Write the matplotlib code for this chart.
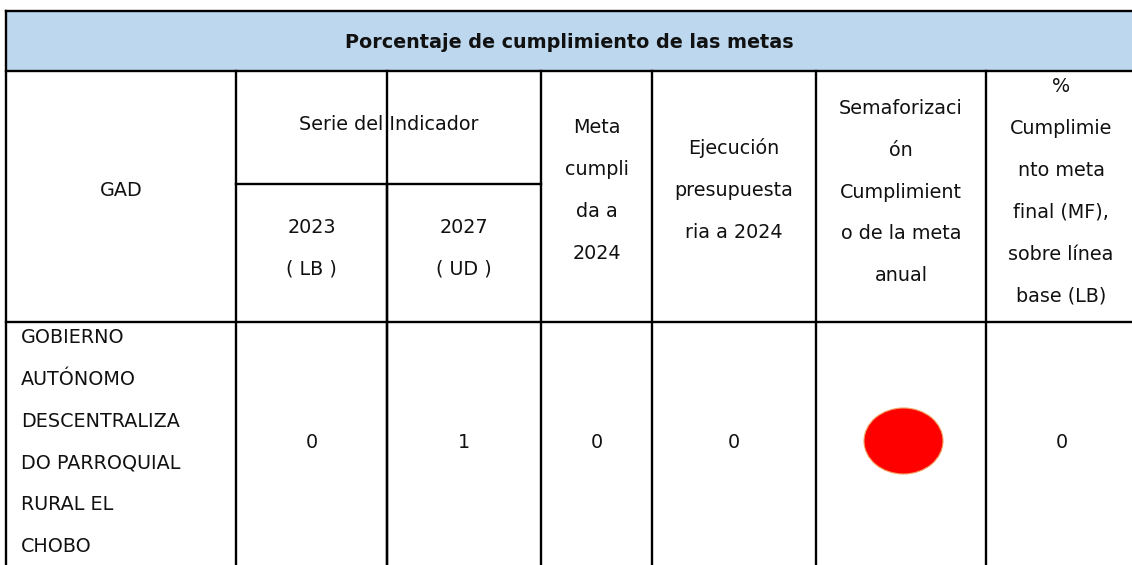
import matplotlib
matplotlib.use("Agg")
import matplotlib.pyplot as plt
from matplotlib.patches import Rectangle, Ellipse

plt.rcParams['font.family'] = ['DejaVu Sans']

# ---- data ----
title = "Porcentaje de cumplimiento de las metas"
col_headers = ["GAD", "Serie del Indicador", "Meta\ncumpli\nda a\n2024",
               "Ejecución\npresupuesta\nria a 2024",
               "Semaforizaci\nón\nCumplimient\no de la meta\nanual",
               "%\nCumplimie\nnto meta\nfinal (MF),\nsobre línea\nbase (LB)"]
sub_headers = ["2023\n( LB )", "2027\n( UD )"]
gad_name = "GOBIERNO\nAUTÓNOMO\nDESCENTRALIZA\nDO PARROQUIAL\nRURAL EL\nCHOBO"
linea_base = [0]
meta_2027 = [1]
meta_cumplida = [0]
ejecucion = [0]
semaforo = ["#FF0000"]
cumplimiento_mf = [0]

# ---- layout ----
W, H = 1132, 565
fig = plt.figure(figsize=(W / 100, H / 100), dpi=100)
ax = fig.add_axes([0, 0, 1, 1])
ax.set_xlim(0, W)
ax.set_ylim(H, 0)
ax.set_axis_off()

cols = [6, 236, 387, 541, 652, 816, 986, 1140]
y_top, y_head, y_sub, y_row, y_bot = 11, 71, 184, 322, 570
lw = 1.7
txt = '#111111'
fs = 13.8
ls = 2.53

# header band
ax.add_patch(Rectangle((cols[0], y_top), W - cols[0] + 5, y_head - y_top,
                       facecolor='#BDD7EE', edgecolor='none', zorder=0))

def hline(y, x0, x1):
    ax.plot([x0, x1], [y, y], color='black', lw=lw, solid_capstyle='projecting', zorder=3)

def vline(x, y0, y1):
    ax.plot([x, x], [y0, y1], color='black', lw=lw, solid_capstyle='projecting', zorder=3)

hline(y_top, cols[0], W + 5)
hline(y_head, cols[0], W + 5)
hline(y_row, cols[0], W + 5)
hline(y_sub, cols[1], cols[3])
vline(cols[0], y_top, y_bot)
for x in cols[1:7]:
    vline(x, y_head, y_bot)
vline(cols[2], y_sub, y_bot)

ax.text((cols[0] + W) / 2, (y_top + y_head) / 2 + 1, title, ha='center', va='center',
        fontsize=fs, fontweight='bold', color=txt)

ax.text((cols[0] + cols[1]) / 2, 190, col_headers[0], ha='center', va='center',
        fontsize=fs, color=txt)
ax.text((cols[1] + cols[3]) / 2, 124, col_headers[1], ha='center', va='center',
        fontsize=fs, color=txt)
for i, s in enumerate(sub_headers):
    ax.text((cols[1 + i] + cols[2 + i]) / 2, 248, s, ha='center', va='center',
            fontsize=fs, color=txt, linespacing=ls)
head_y = [190.5, 190, 192, 191.5]
head_x = [(cols[3] + cols[4]) / 2, (cols[4] + cols[5]) / 2, (cols[5] + cols[6]) / 2, 1061]
for s, x, y in zip(col_headers[2:], head_x, head_y):
    ax.text(x, y, s, ha='center', va='center', fontsize=fs, color=txt, linespacing=ls)

# data row
row_y = 442
ax.text(21, row_y, gad_name, ha='left', va='center', fontsize=fs, color=txt, linespacing=ls)
vals = [linea_base[0], meta_2027[0], meta_cumplida[0], ejecucion[0]]
for i, v in enumerate(vals):
    ax.text((cols[1 + i] + cols[2 + i]) / 2, row_y, str(v), ha='center', va='center',
            fontsize=fs, color=txt)
ax.add_patch(Ellipse((903.5, 441), 79, 66, facecolor=semaforo[0], edgecolor='#F0A060',
                     lw=0.8, zorder=2))
ax.text(1062, row_y, str(cumplimiento_mf[0]), ha='center', va='center', fontsize=fs, color=txt)

fig.savefig('out.png', dpi=100)
